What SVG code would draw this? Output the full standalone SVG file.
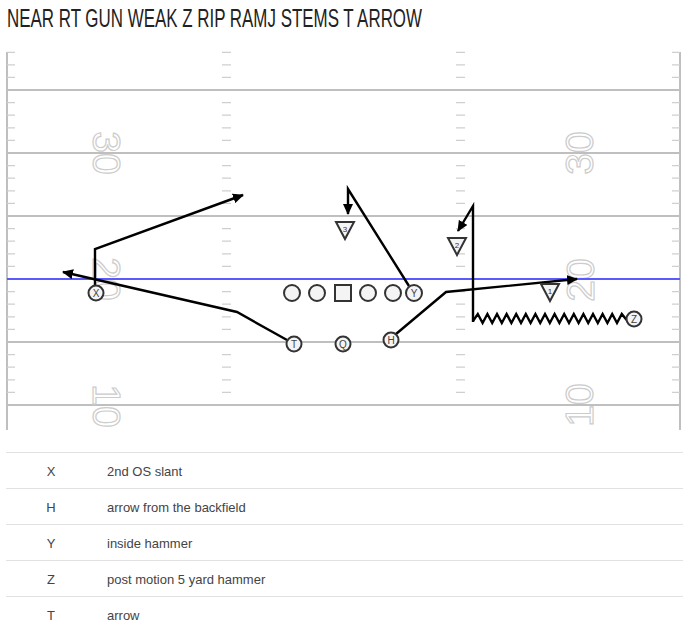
<svg xmlns="http://www.w3.org/2000/svg" width="683" height="630" viewBox="0 0 683 630">
<style>
.yl{stroke:#bfbfbf;stroke-width:2;fill:none}
.hs{stroke:#cfcfcf;stroke-width:1.3}
.num{font-family:"Liberation Sans",Arial,sans-serif;font-size:39px;fill:none;stroke:#cccccc;stroke-width:1.2;text-anchor:middle}
.pl{fill:#f4f4f4;stroke:#333;stroke-width:2}
.lbl{font-family:"Liberation Sans",Arial,sans-serif;font-size:10px;fill:#444;text-anchor:middle}
.dl{font-family:"Liberation Sans",Arial,sans-serif;font-size:8px;fill:#333;text-anchor:middle}
.rt{stroke:#000;stroke-width:2.4;fill:none;stroke-linejoin:miter}
.lg{font-family:"Liberation Sans",Arial,sans-serif;font-size:13px;fill:#444}
.sep{stroke:#e2e2e2;stroke-width:1}
</style>
<defs>
<marker id="ah" markerWidth="12" markerHeight="10" refX="10" refY="5" orient="auto" markerUnits="userSpaceOnUse">
<path d="M0,0 L11,5 L0,10 z" fill="#000"/>
</marker>
</defs>
<rect width="683" height="630" fill="#fff"/>
<text x="7" y="27" font-family="'Liberation Sans',Arial,sans-serif" font-size="25" fill="#222" textLength="415" lengthAdjust="spacingAndGlyphs">NEAR RT GUN WEAK Z RIP RAMJ STEMS T ARROW</text>

<g id="field">
<line class="yl" x1="7" y1="52" x2="7" y2="430"/>
<line class="yl" x1="680" y1="52" x2="680" y2="430"/>
<line class="yl" x1="7" y1="90" x2="680" y2="90"/>
<line class="yl" x1="7" y1="153" x2="680" y2="153"/>
<line class="yl" x1="7" y1="216" x2="680" y2="216"/>
<line class="yl" x1="7" y1="279" x2="680" y2="279"/>
<line class="yl" x1="7" y1="342" x2="680" y2="342"/>
<line class="yl" x1="7" y1="405" x2="680" y2="405"/>
<path class="hs" d="M7,52.4h8M222,52.4h9M456,52.4h9M672,52.4h8
M7,64.8h8M222,64.8h9M456,64.8h9M672,64.8h8
M7,77.4h8M222,77.4h9M456,77.4h9M672,77.4h8
M7,102.6h8M222,102.6h9M456,102.6h9M672,102.6h8
M7,115.2h8M222,115.2h9M456,115.2h9M672,115.2h8
M7,127.8h8M222,127.8h9M456,127.8h9M672,127.8h8
M7,140.4h8M222,140.4h9M456,140.4h9M672,140.4h8
M7,165.6h8M222,165.6h9M456,165.6h9M672,165.6h8
M7,178.2h8M222,178.2h9M456,178.2h9M672,178.2h8
M7,190.8h8M222,190.8h9M456,190.8h9M672,190.8h8
M7,203.4h8M222,203.4h9M456,203.4h9M672,203.4h8
M7,228.6h8M222,228.6h9M456,228.6h9M672,228.6h8
M7,241.2h8M222,241.2h9M456,241.2h9M672,241.2h8
M7,253.8h8M222,253.8h9M456,253.8h9M672,253.8h8
M7,266.4h8M222,266.4h9M456,266.4h9M672,266.4h8
M7,291.6h8M222,291.6h9M456,291.6h9M672,291.6h8
M7,304.2h8M222,304.2h9M456,304.2h9M672,304.2h8
M7,316.8h8M222,316.8h9M456,316.8h9M672,316.8h8
M7,329.4h8M222,329.4h9M456,329.4h9M672,329.4h8
M7,354.6h8M222,354.6h9M456,354.6h9M672,354.6h8
M7,367.2h8M222,367.2h9M456,367.2h9M672,367.2h8
M7,379.8h8M222,379.8h9M456,379.8h9M672,379.8h8
M7,392.4h8M222,392.4h9M456,392.4h9M672,392.4h8"/>
<text class="num" transform="translate(107,153) rotate(90)" y="14">30</text>
<text class="num" transform="translate(107,279) rotate(90)" y="14">20</text>
<text class="num" transform="translate(107,406) rotate(90)" y="14">10</text>
<text class="num" transform="translate(579,153) rotate(-90)" y="14">30</text>
<text class="num" transform="translate(580,280) rotate(-90)" y="14">20</text>
<text class="num" transform="translate(579,405) rotate(-90)" y="14">10</text>
<line x1="7" y1="279" x2="680" y2="279" stroke="#5a5aff" stroke-width="2"/>
</g>

<g id="connectors">
<path class="rt" d="M95,286 V249 L243,195" marker-end="url(#ah)"/>
<path class="rt" d="M287,340 L237,312 L63,272" marker-end="url(#ah)"/>
<path class="rt" d="M409,286 L348,189 V214" marker-end="url(#ah)"/>
<path class="rt" d="M396,334 L446,292 L577,279" marker-end="url(#ah)"/>
<polyline class="rt" stroke-width="2" points="473,321 477.8,314 482.6,323 487.4,314 492.2,323 497,314 501.8,323 506.6,314 511.4,323 516.2,314 521,323 525.8,314 530.6,323 535.4,314 540.2,323 545,314 549.8,323 554.6,314 559.4,323 564.2,314 569,323 573.8,314 578.6,323 583.4,314 588.2,323 593,314 597.8,323 602.6,314 607.4,323 612.2,314 617,323 621.8,314 626.6,320"/>
<path class="rt" d="M473,322 V206 L458,231" marker-end="url(#ah)"/>
</g>

<g id="def3"><polygon class="pl" points="336,222 354,222 345,239"/><text class="dl" x="345" y="232">3</text></g>
<g id="def2"><polygon class="pl" points="448,238 466,238 457,255"/><text class="dl" x="457" y="248">2</text></g>
<g id="def1"><polygon class="pl" points="541,284 559,284 550,301"/><text class="dl" x="550" y="294">1</text></g>

<g id="ol1"><circle class="pl" cx="292" cy="293" r="8"/></g>
<g id="ol2"><circle class="pl" cx="317" cy="293" r="8"/></g>
<g id="center"><rect class="pl" x="335" y="285" width="16" height="16"/></g>
<g id="ol4"><circle class="pl" cx="368" cy="293" r="8"/></g>
<g id="ol5"><circle class="pl" cx="393" cy="293" r="8"/></g>
<g id="Y"><circle class="pl" cx="414" cy="293" r="8"/><text class="lbl" x="414" y="296.5">Y</text></g>
<g id="X"><circle class="pl" cx="96" cy="293" r="7.5"/><text class="lbl" x="96" y="296.5">X</text></g>
<g id="T"><circle class="pl" cx="294" cy="344" r="7.5"/><text class="lbl" x="294" y="347.5">T</text></g>
<g id="Q"><circle class="pl" cx="343" cy="344" r="7.5"/><text class="lbl" x="343" y="347.5">Q</text></g>
<g id="H"><circle class="pl" cx="391" cy="340" r="7.5"/><text class="lbl" x="391" y="343.5">H</text></g>
<g id="Z"><circle class="pl" cx="634" cy="319" r="7.5"/><text class="lbl" x="634" y="322.5">Z</text></g>

<g id="legend">
<line class="sep" x1="6" y1="452.5" x2="683" y2="452.5"/>
<line class="sep" x1="6" y1="488.5" x2="683" y2="488.5"/>
<line class="sep" x1="6" y1="524.5" x2="683" y2="524.5"/>
<line class="sep" x1="6" y1="560.5" x2="683" y2="560.5"/>
<line class="sep" x1="6" y1="596.5" x2="683" y2="596.5"/>
<text class="lg" x="51" y="476" text-anchor="middle">X</text><text class="lg" x="107" y="476">2nd OS slant</text>
<text class="lg" x="51" y="512" text-anchor="middle">H</text><text class="lg" x="107" y="512">arrow from the backfield</text>
<text class="lg" x="51" y="548" text-anchor="middle">Y</text><text class="lg" x="107" y="548">inside hammer</text>
<text class="lg" x="51" y="584" text-anchor="middle">Z</text><text class="lg" x="107" y="584">post motion 5 yard hammer</text>
<text class="lg" x="51" y="620" text-anchor="middle">T</text><text class="lg" x="107" y="620">arrow</text>
</g>
</svg>
